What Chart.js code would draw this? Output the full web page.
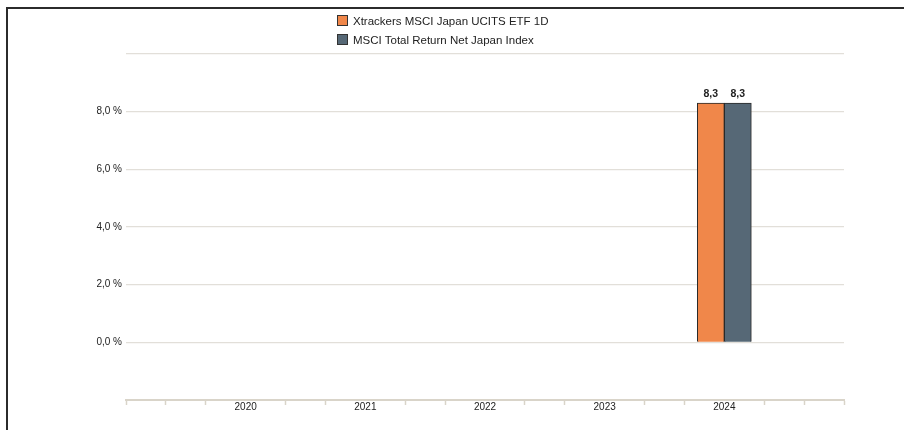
<!DOCTYPE html>
<html lang="en">
<head>
    <meta charset="UTF-8">
    <title>Calendar year performance</title>
    <script src="https://cdn.jsdelivr.net/npm/chart.js@4.4.1/dist/chart.umd.min.js"></script>
    <style>
        body { margin: 0; background: #fff; font-family: "Liberation Sans", Arial, sans-serif; }
        .wrap { position: relative; width: 904px; height: 430px; }
        .frame { position: absolute; left: 6px; top: 7px; width: 898px; height: 423px;
                 border-left: 2px solid #2b2b2b; border-top: 2px solid #2b2b2b; pointer-events: none; }
        .legend { position: absolute; left: 337px; top: 12px; font-size: 11.5px; color: #222; }
        .legend div { height: 19px; line-height: 19px; white-space: nowrap; }
        .legend span { display: inline-block; width: 9px; height: 9px; border: 1px solid #333;
                       margin-right: 5px; vertical-align: -1px; }
    </style>
</head>
<body>
    <div class="wrap">
        <canvas id="perfChart"></canvas>
        <div class="frame"></div>
        <div class="legend" id="legend"></div>
    </div>

    <script>
        const years = ['2020', '2021', '2022', '2023', '2024'];
        const etfValues = [null, null, null, null, 8.3];
        const indexValues = [null, null, null, null, 8.3];
        const seriesNames = ['Xtrackers MSCI Japan UCITS ETF 1D', 'MSCI Total Return Net Japan Index'];
        const seriesColors = ['#f0874a', '#566876'];

        // axis runs one year before/after the data, with a minor tick every third of a year
        const slots = [];
        const etfSlots = [];
        const indexSlots = [];
        for (let i = 0; i <= 18; i++) {
            const k = i / 3 - 1;
            const isYear = i % 3 === 0 && k >= 0 && k < years.length;
            slots.push(isYear ? years[k] : '');
            etfSlots.push(isYear ? etfValues[k] : null);
            indexSlots.push(isYear ? indexValues[k] : null);
        }

        const legendEl = document.getElementById('legend');
        seriesNames.forEach((name, i) => {
            const row = document.createElement('div');
            row.innerHTML = '<span style="background:' + seriesColors[i] + '"></span>' + name;
            legendEl.appendChild(row);
        });

        const fmt = v => v.toFixed(1).replace('.', ',');

        const valueLabels = {
            id: 'valueLabels',
            afterDatasetsDraw(chart) {
                const ctx = chart.ctx;
                ctx.save();
                ctx.font = 'bold 10.5px "Liberation Sans", Arial, sans-serif';
                ctx.fillStyle = '#222';
                ctx.textAlign = 'center';
                ctx.textBaseline = 'bottom';
                chart.data.datasets.forEach((ds, i) => {
                    chart.getDatasetMeta(i).data.forEach((bar, j) => {
                        const v = ds.data[j];
                        if (v == null) return;
                        ctx.fillText(fmt(v), bar.x, bar.y - 4);
                    });
                });
                ctx.restore();
            }
        };

        const axisColor = '#d9d4c9';

        new Chart(document.getElementById('perfChart'), {
            type: 'bar',
            data: {
                labels: slots,
                datasets: [
                    { label: seriesNames[0], data: etfSlots, backgroundColor: seriesColors[0],
                      borderColor: '#2a2a2a', borderWidth: 1, barThickness: 27 },
                    { label: seriesNames[1], data: indexSlots, backgroundColor: seriesColors[1],
                      borderColor: '#2a2a2a', borderWidth: 1, barThickness: 27 }
                ]
            },
            options: {
                responsive: true,
                maintainAspectRatio: false,
                animation: false,
                layout: { padding: { top: 54, right: 60, bottom: 0, left: 0 } },
                plugins: {
                    legend: { display: false },
                    tooltip: { enabled: false }
                },
                scales: {
                    x: {
                        offset: false,
                        afterFit: s => { s.height = 30; },
                        border: { display: true, color: axisColor, width: 2 },
                        grid: {
                            offset: false,
                            drawOnChartArea: false,
                            tickLength: 5,
                            tickWidth: 1.5,
                            tickColor: c => (c.tick && c.tick.label === '' ? axisColor : 'transparent')
                        },
                        ticks: {
                            autoSkip: false,
                            maxRotation: 0,
                            padding: -4,
                            color: '#222',
                            font: { family: '"Liberation Sans", Arial, sans-serif', size: 10 }
                        }
                    },
                    y: {
                        min: -2,
                        max: 10,
                        afterFit: s => { s.width = 126; },
                        border: { display: false },
                        grid: { color: '#e2dfd9', lineWidth: 1.3, drawTicks: false },
                        ticks: {
                            stepSize: 2,
                            padding: 4,
                            color: '#222',
                            font: { family: '"Liberation Sans", Arial, sans-serif', size: 10 },
                            callback: v => (v >= 0 && v <= 8 ? fmt(v) + ' %' : '')
                        }
                    }
                }
            },
            plugins: [valueLabels]
        });
    </script>
</body>
</html>
